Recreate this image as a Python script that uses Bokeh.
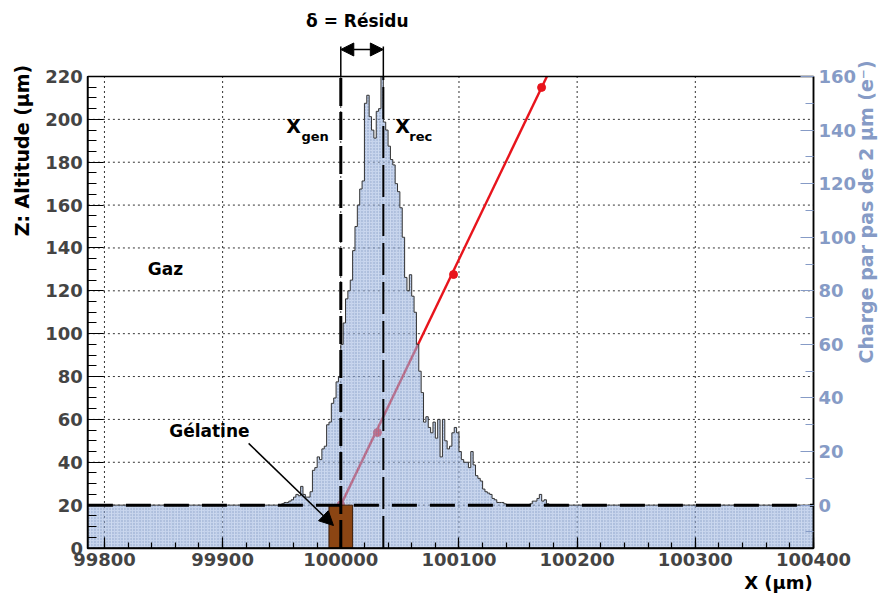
import numpy as np
from bokeh.plotting import figure
from bokeh.models import (Range1d, LinearAxis, FixedTicker, Label, Arrow,
                          NormalHead, ColumnDataSource, BasicTickFormatter)
from bokeh.embed import file_html
from bokeh.resources import INLINE

# ---------------- data ----------------
x_window = (99786, 100400)          # X (um) shown inside the frame box
z_window = (0, 220)                 # Z altitude (um)
charge_window = (-16, 160)          # charge per 2 um step (e-)

x_ticks = [99800, 99900, 100000, 100100, 100200, 100300, 100400]
z_ticks = [0, 20, 40, 60, 80, 100, 120, 140, 160, 180, 200, 220]
charge_ticks = [0, 20, 40, 60, 80, 100, 120, 140, 160]

bin_width = 2
hist_start = 99950
charge_counts = [
    0.5, 1, 1, 1.5, 2, 3, 4, 3.5, 7, 4,
    3, 3, 5, 13, 14, 18, 17, 21, 22, 30,
    31, 38, 40, 46, 48, 60, 68, 77, 80, 84,
    95, 104, 112, 118, 121, 150, 153, 145, 140, 137,
    147, 148, 160, 143, 140, 134, 129, 127, 120, 117,
    111, 100, 85, 80, 86, 78, 72, 60, 50, 42,
    31, 33, 29, 27, 31, 25, 32, 18, 32, 24,
    21, 22, 27, 29, 27, 20, 17, 16, 16, 14,
    20, 15, 11, 10, 9, 6, 5, 4.5, 4, 2.5,
    2, 1, 1, 1, 0.5, 0, 0, 0, 0, 0,
    0, 0, 0, 0, 0, 0.5, 1.5, 1.5, 2.5, 4,
    1.5, 2, 0.5,
]

x_gen = 100000
x_rec = 100036
gel_x = (99990, 100010)
gel_z = (0, 20)
gas_boundary_z = 20

track_x = [100000, 100174.4]
track_z = [20, 220]
cluster_x = [100000, 100031, 100095.4, 100169.9]
cluster_z = [20, 53.9, 127.6, 214.9]

# ---------------- layout (pixels) ----------------
CANVAS_W, CANVAS_H = 880, 598
BOX_L, BOX_R, BOX_T, BOX_B = 87.4, 813.0, 76.0, 547.5
sx = (BOX_R - BOX_L) / (x_window[1] - x_window[0])
sz = (BOX_B - BOX_T) / (z_window[1] - z_window[0])
xr = (x_window[0] - BOX_L / sx, x_window[0] + (CANVAS_W - BOX_L) / sx)
zr = (z_window[0] - (CANVAS_H - BOX_B) / sz, z_window[1] + BOX_T / sz)
ck = (charge_window[1] - charge_window[0]) / (z_window[1] - z_window[0])
cr = (charge_window[0] + (zr[0] - z_window[0]) * ck, charge_window[0] + (zr[1] - z_window[0]) * ck)

# ---------------- histogram arrays ----------------
edges = np.arange(x_window[0], x_window[1] + 0.001, bin_width)
vals = np.zeros(len(edges) - 1)
i0 = int(round((hist_start - x_window[0]) / bin_width))
vals[i0:i0 + len(charge_counts)] = charge_counts
hist_src = ColumnDataSource(dict(left=edges[:-1], right=edges[1:], top=vals,
                                 bottom=np.full(len(vals), charge_window[0])))

FONT = "DejaVu Sans"
BLUE = "#869bc6"
RED = "#e8141c"

p = figure(width=CANVAS_W, height=CANVAS_H,
           x_range=Range1d(*xr), y_range=Range1d(*zr),
           output_backend="svg", toolbar_location=None,
           min_border=0, min_border_left=0, min_border_right=0,
           min_border_top=0, min_border_bottom=0,
           background_fill_color="white", border_fill_color="white")
p.extra_y_ranges = {"charge": Range1d(*cr)}
p.outline_line_color = None
p.xgrid.visible = False
p.ygrid.visible = False

# axes, pinned to the edges of the frame box
p.xaxis.ticker = FixedTicker(ticks=x_ticks, minor_ticks=list(range(99800, 100401, 20)))
p.xaxis.formatter = BasicTickFormatter(use_scientific=False)
p.xaxis.fixed_location = z_window[0]
p.xaxis.bounds = x_window
p.yaxis.ticker = FixedTicker(ticks=z_ticks, minor_ticks=list(range(0, 221, 5)))
p.yaxis.fixed_location = x_window[0]
p.yaxis.bounds = z_window
raxis = LinearAxis(y_range_name="charge",
                   ticker=FixedTicker(ticks=charge_ticks, minor_ticks=list(range(-10, 161, 10))),
                   fixed_location=x_window[1], bounds=charge_window)
p.add_layout(raxis, "right")

for ax in [p.xaxis[0], p.yaxis[0], raxis]:
    ax.major_tick_out = 0
    ax.minor_tick_out = 0
    ax.axis_line_width = 1.5
    ax.major_tick_line_width = 1.2
    ax.minor_tick_line_width = 1.2
    ax.major_label_text_font = FONT
    ax.major_label_text_font_style = "bold"
    ax.major_label_text_font_size = "18px"
    ax.major_label_standoff = 5
p.xaxis.major_tick_in = 11
p.xaxis.minor_tick_in = 6
p.yaxis.major_tick_in = 16
p.yaxis.minor_tick_in = 9
raxis.major_tick_in = 13
raxis.minor_tick_in = 8
raxis.major_tick_line_color = BLUE
raxis.minor_tick_line_color = BLUE
raxis.major_label_text_color = BLUE

# dotted grid inside the box
nx = len(x_ticks)
p.segment(x0=x_ticks, y0=[z_window[0]] * nx, x1=x_ticks, y1=[z_window[1]] * nx,
          line_color="black", line_dash="2 3", line_alpha=0.8, line_width=1)
nz = len(z_ticks)
p.segment(x0=[x_window[0]] * nz, y0=z_ticks, x1=[x_window[1]] * nz, y1=z_ticks,
          line_color="black", line_dash="2 3", line_alpha=0.8, line_width=1)

# track (under the histogram so it looks pink where covered)
p.line(track_x, track_z, line_color=RED, line_width=2.4)
p.scatter(cluster_x, cluster_z, size=8, marker="circle", fill_color=RED, line_color=RED)

# histogram
p.quad(left="left", right="right", top="top", bottom="bottom", source=hist_src,
       y_range_name="charge", fill_color="#9fb5e0", fill_alpha=0.6,
       line_color=None, hatch_pattern="dot", hatch_color="#5a74a8",
       hatch_alpha=0.55, hatch_scale=3, hatch_weight=1)
p.step(np.append(edges[:-1], edges[-1]), np.append(vals, vals[-1]), mode="after",
       y_range_name="charge", line_color="#333333", line_width=1)

# gelatine block
p.quad(left=[gel_x[0]], right=[gel_x[1]], bottom=[gel_z[0]], top=[gel_z[1]],
       fill_color="#8b4513", line_color="#3a1a05", line_width=1)

# dashed reference lines
p.line(list(x_window), [gas_boundary_z, gas_boundary_z], line_color="black",
       line_width=3, line_dash="25 13")
p.line([x_gen, x_gen], list(z_window), line_color="black", line_width=3, line_dash="28 6")
p.line([x_rec, x_rec], list(z_window), line_color="black", line_width=2, line_dash="32 7")

# frame box
p.quad(left=[x_window[0]], right=[x_window[1]], bottom=[z_window[0]], top=[z_window[1]],
       fill_color=None, line_color="black", line_width=1.5)

# residual bracket above the box
bracket_top = 234.0
p.line([x_gen, x_gen], [z_window[1], bracket_top], line_color="black", line_width=1.5)
p.line([x_rec, x_rec], [z_window[1], bracket_top], line_color="black", line_width=1.5)
p.add_layout(Arrow(start=NormalHead(size=13, fill_color="black", line_color="black"),
                   end=NormalHead(size=13, fill_color="black", line_color="black"),
                   x_start=x_gen, y_start=232.6, x_end=x_rec, y_end=232.6,
                   line_width=1.5, line_color="black"))


def lab(x, y, text, size="18px", align="center", baseline="middle", color="black",
        angle=0.0, style="bold"):
    p.add_layout(Label(x=x, y=y, text=text, text_font=FONT, text_font_style=style,
                       text_font_size=size, text_align=align, text_baseline=baseline,
                       text_color=color, angle=angle))


lab(100014, 245.7, "δ = Résidu", size="17px")
lab(99960, 196.7, "X", size="19px")
lab(99966.7, 192, "gen", size="13px", align="left")
lab(100052.2, 196.7, "X", size="19px")
lab(100058, 192, "rec", size="13px", align="left")
lab(99851.6, 130.4, "Gaz", size="17px")
lab(99888.8, 54.8, "Gélatine", size="17px")
p.add_layout(Arrow(end=NormalHead(size=14, fill_color="black", line_color="black"),
                   x_start=99922, y_start=48.8, x_end=99993.8, y_end=10.5,
                   line_width=1.5, line_color="black"))

# axis titles
lab(99730.6, 225.5, "Z: Altitude (µm)", size="19px", align="right", angle=np.pi / 2)
lab(100444.8, 227.5, "Charge par pas de 2 µm (e⁻)", size="19px", align="right",
    angle=np.pi / 2, color=BLUE)
lab(100399.4, -16.1, "X (µm)", size="18px", align="right")

open("out.html", "w").write(file_html(p, INLINE))
